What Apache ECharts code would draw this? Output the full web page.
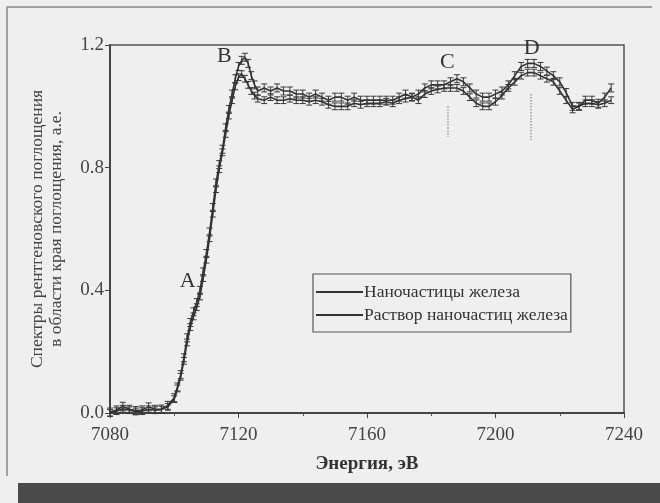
<!DOCTYPE html>
<html>
<head>
<meta charset="utf-8">
<script src="https://cdn.jsdelivr.net/npm/echarts@6/dist/echarts.min.js"></script>
<style>
  html, body { margin: 0; padding: 0; background: #efefef; }
  #xanes { width: 660px; height: 503px; }
</style>
</head>
<body>
<div id="xanes"></div>
<script>
// энергия, эВ
var energy = [7080, 7082, 7084, 7086, 7088, 7090, 7092, 7094, 7096, 7098,
  7100, 7101, 7102, 7103, 7104, 7105, 7106, 7107, 7108, 7109, 7110, 7111, 7112, 7113,
  7114, 7115, 7116, 7117, 7118, 7119, 7120, 7121, 7122, 7123, 7124, 7125, 7126,
  7128, 7130, 7132, 7134, 7136, 7138, 7140, 7142, 7144, 7146, 7148, 7150, 7152, 7154,
  7156, 7158, 7160, 7162, 7164, 7166, 7168, 7170, 7172, 7174, 7176, 7178, 7180, 7182,
  7184, 7186, 7188, 7190, 7192, 7194, 7196, 7198, 7200, 7202, 7204, 7206, 7208, 7210,
  7212, 7214, 7216, 7218, 7220, 7222, 7224, 7226, 7228, 7230, 7232, 7234, 7236];

// Наночастицы железа
var absNano = [0.003, 0.010, 0.022, 0.012, 0.008, 0.010, 0.020, 0.012, 0.013, 0.025,
  0.050, 0.085, 0.125, 0.180, 0.245, 0.295, 0.330, 0.360, 0.400, 0.460, 0.520, 0.590, 0.670, 0.750,
  0.810, 0.860, 0.930, 0.990, 1.040, 1.090, 1.130, 1.150, 1.160, 1.140, 1.100, 1.070, 1.050,
  1.060, 1.050, 1.060, 1.050, 1.050, 1.040, 1.040, 1.030, 1.040, 1.030, 1.020, 1.030, 1.030, 1.020,
  1.030, 1.020, 1.020, 1.020, 1.020, 1.020, 1.020, 1.030, 1.040, 1.030, 1.040, 1.060, 1.070, 1.070,
  1.070, 1.080, 1.090, 1.080, 1.060, 1.040, 1.030, 1.030, 1.040, 1.050, 1.070, 1.100, 1.130, 1.140,
  1.140, 1.130, 1.115, 1.100, 1.080, 1.045, 1.000, 1.000, 1.020, 1.020, 1.010, 1.030, 1.060];

// Раствор наночастиц железа
var absSol = [0.000, 0.006, 0.014, 0.009, 0.005, 0.006, 0.012, 0.009, 0.011, 0.020,
  0.045, 0.080, 0.118, 0.170, 0.230, 0.280, 0.315, 0.345, 0.380, 0.440, 0.500, 0.570, 0.650, 0.730,
  0.795, 0.850, 0.910, 0.970, 1.020, 1.065, 1.095, 1.105, 1.090, 1.070, 1.050, 1.035, 1.025,
  1.020, 1.030, 1.020, 1.020, 1.025, 1.020, 1.020, 1.015, 1.020, 1.015, 1.005, 1.000, 1.000, 1.000,
  1.010, 1.005, 1.010, 1.010, 1.010, 1.015, 1.010, 1.020, 1.025, 1.030, 1.020, 1.040, 1.050, 1.055,
  1.060, 1.060, 1.060, 1.050, 1.030, 1.010, 1.000, 1.000, 1.015, 1.035, 1.060, 1.080, 1.100, 1.110,
  1.110, 1.100, 1.090, 1.080, 1.050, 1.020, 0.990, 1.000, 1.010, 1.010, 1.005, 1.010, 1.020];

var errNano = 0.013;
var errSol = 0.011;

var seriesNames = ['Наночастицы железа', 'Раствор наночастиц железа'];

// метки особенностей спектра
var peakLabels = ['A', 'B', 'C', 'D'];
var peakCoords = [[7104.2, 0.43], [7115.6, 1.165], [7185, 1.145], [7211.3, 1.19]];
var guideC = [[7185, 1.0], [7185, 0.9]];
var guideD = [[7211, 1.04], [7211, 0.89]];

var xTicks = [7080, 7120, 7160, 7200, 7240];
var yTicks = [0.0, 0.4, 0.8, 1.2];

function pairs(xs, ys) {
  return xs.map(function (x, i) { return [x, ys[i]]; });
}

function errorBars(name, xs, ys, err) {
  return {
    name: name,
    type: 'custom',
    silent: true,
    z: 3,
    data: pairs(xs, ys),
    renderItem: function (params, api) {
      var hi = api.coord([api.value(0), api.value(1) + err]);
      var lo = api.coord([api.value(0), api.value(1) - err]);
      var cap = 3;
      var st = { stroke: '#3a3a3a', lineWidth: 1 };
      return {
        type: 'group',
        children: [
          { type: 'line', shape: { x1: hi[0], y1: hi[1], x2: lo[0], y2: lo[1] }, style: st },
          { type: 'line', shape: { x1: hi[0] - cap, y1: hi[1], x2: hi[0] + cap, y2: hi[1] }, style: st },
          { type: 'line', shape: { x1: lo[0] - cap, y1: lo[1], x2: lo[0] + cap, y2: lo[1] }, style: st }
        ]
      };
    }
  };
}

var serif = '"Liberation Serif", "DejaVu Serif", serif';
var myChart = echarts.init(document.getElementById('xanes'));

myChart.setOption({
  backgroundColor: '#efefef',
  animation: false,
  textStyle: { fontFamily: serif },
  grid: {
    left: 110,
    right: 36,
    top: 45,
    bottom: 90,
    show: true,
    borderColor: '#555',
    borderWidth: 1.5,
    backgroundColor: 'transparent'
  },
  legend: {
    left: 313,
    top: 274,
    orient: 'vertical',
    data: seriesNames.map(function (n) { return { name: n, icon: 'rect' }; }),
    itemWidth: 47,
    itemHeight: 2,
    itemGap: 5,
    padding: [9, 3, 8, 3],
    borderColor: '#555',
    borderWidth: 1.2,
    backgroundColor: '#efefef',
    textStyle: { fontFamily: serif, fontSize: 17.5, color: '#333', padding: [0, 0, 0, -4], lineHeight: 17 }
  },
  xAxis: {
    type: 'value',
    min: 7080,
    max: 7240,
    interval: 40,
    name: 'Энергия, эВ',
    nameLocation: 'middle',
    nameGap: 42,
    nameTextStyle: { fontFamily: serif, fontSize: 19, fontWeight: 'bold', color: '#333' },
    axisLine: { show: true, onZero: false, lineStyle: { color: '#444', width: 2 } },
    axisTick: { show: true, inside: false, length: 5, lineStyle: { color: '#444' } },
    minorTick: { show: true, splitNumber: 2, length: 3, lineStyle: { color: '#555' } },
    splitLine: { show: false },
    axisLabel: {
      margin: 13,
      fontFamily: serif,
      fontSize: 19,
      color: '#444',
      formatter: function (v) { return xTicks.indexOf(v) >= 0 ? String(v) : ''; }
    }
  },
  yAxis: {
    type: 'value',
    min: 0,
    max: 1.2,
    interval: 0.4,
    name: 'Спектры рентгеновского поглощения\nв области края поглощения, а.е.',
    nameLocation: 'middle',
    nameRotate: 90,
    nameGap: 44,
    nameTextStyle: { fontFamily: serif, fontSize: 17.5, color: '#444', lineHeight: 19, align: 'center' },
    axisLine: { show: true, lineStyle: { color: '#444', width: 2 } },
    axisTick: { show: true, inside: false, length: 5, lineStyle: { color: '#444' } },
    splitLine: { show: false },
    axisLabel: {
      margin: 6,
      fontFamily: serif,
      fontSize: 19,
      color: '#444',
      formatter: function (v) { return yTicks.indexOf(+v.toFixed(1)) >= 0 ? v.toFixed(1) : ''; }
    }
  },
  series: [
    {
      name: seriesNames[0],
      type: 'line',
      symbol: 'none',
      z: 4,
      data: pairs(energy, absNano),
      lineStyle: { color: '#333', width: 1.6 },
      itemStyle: { color: '#333' },
      markPoint: {
        symbol: 'circle',
        symbolSize: 1,
        itemStyle: { color: 'transparent' },
        label: {
          show: true,
          position: 'inside',
          fontFamily: serif,
          fontSize: 22,
          color: '#333',
          formatter: function (p) { return p.name; }
        },
        data: peakLabels.map(function (l, i) { return { name: l, coord: peakCoords[i] }; })
      },
      markLine: {
        silent: true,
        symbol: 'none',
        label: { show: false },
        lineStyle: { type: 'dotted', color: '#999', width: 1.5 },
        data: [
          [{ coord: guideC[0] }, { coord: guideC[1] }],
          [{ coord: guideD[0] }, { coord: guideD[1] }]
        ]
      }
    },
    {
      name: seriesNames[1],
      type: 'line',
      symbol: 'none',
      z: 4,
      data: pairs(energy, absSol),
      lineStyle: { color: '#333', width: 1.6 },
      itemStyle: { color: '#333' }
    },
    errorBars(seriesNames[0], energy, absNano, errNano),
    errorBars(seriesNames[1], energy, absSol, errSol)
  ],
  graphic: [
    {
      type: 'polyline',
      silent: true,
      shape: { points: [[7, 476], [7, 7], [652, 7]] },
      style: { stroke: '#8a8a8a', lineWidth: 1.5, fill: null }
    },
    {
      type: 'rect',
      silent: true,
      shape: { x: 18, y: 483, width: 642, height: 20 },
      style: { fill: '#4b4b4b' }
    }
  ]
});

window.addEventListener('resize', function () {
  myChart.resize();
});
</script>
</body>
</html>
